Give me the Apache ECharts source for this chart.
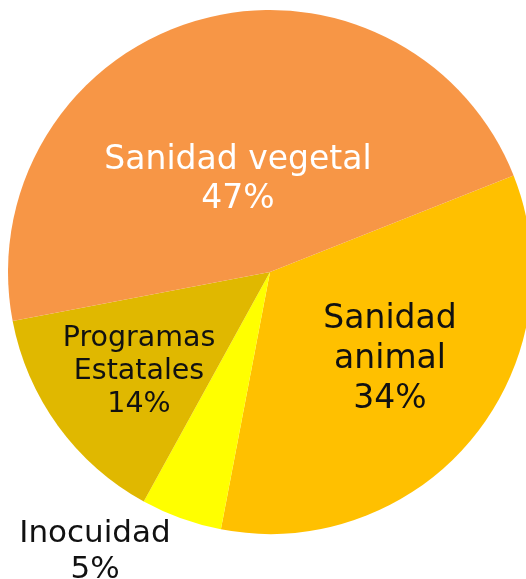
<!DOCTYPE html>
<html>
<head>
<meta charset="utf-8">
<script src="https://cdn.jsdelivr.net/npm/echarts@6/dist/echarts.min.js"></script>
<style>
  html, body { margin: 0; padding: 0; background: #ffffff; }
  #chart { width: 526px; height: 579px; }
</style>
</head>
<body>
<div id="chart"></div>
<script>
// Budget share by program area
const categories = ['Sanidad\nanimal', 'Inocuidad', 'Programas\nEstatales', 'Sanidad vegetal'];
const shares = [34, 5, 14, 47];
const colors = ['#FFC000', '#FFFF00', '#E0B800', '#F79646'];

// Label styling per slice: text colour, font size, line height, anchor point
const labelColors = ['#111111', '#111111', '#111111', '#ffffff'];
const labelSizes = [33, 31, 28.5, 33];
const labelLineHeights = [40, 36, 33, 39];
const labelAnchors = [[390, 359], [95, 552], [139, 372], [238, 180]];

const chart = echarts.init(document.getElementById('chart'), null, { renderer: 'canvas' });

const data = categories.map((name, i) => ({
  name: name,
  value: shares[i],
  itemStyle: { color: colors[i] },
  label: {
    color: labelColors[i],
    fontSize: labelSizes[i],
    lineHeight: labelLineHeights[i]
  }
}));

chart.setOption({
  animation: false,
  series: [{
    type: 'pie',
    center: [270, 272],
    radius: 262,
    startAngle: 21.6,
    clockwise: true,
    avoidLabelOverlap: false,
    itemStyle: { borderWidth: 0 },
    label: {
      show: true,
      position: 'inside',
      fontFamily: 'DejaVu Sans',
      align: 'center',
      formatter: '{b}\n{d}%'
    },
    labelLine: { show: false },
    labelLayout: function (params) {
      const p = labelAnchors[params.dataIndex];
      return { x: p[0], y: p[1], align: 'center', verticalAlign: 'middle' };
    },
    emphasis: { disabled: true },
    data: data
  }]
});
</script>
</body>
</html>
